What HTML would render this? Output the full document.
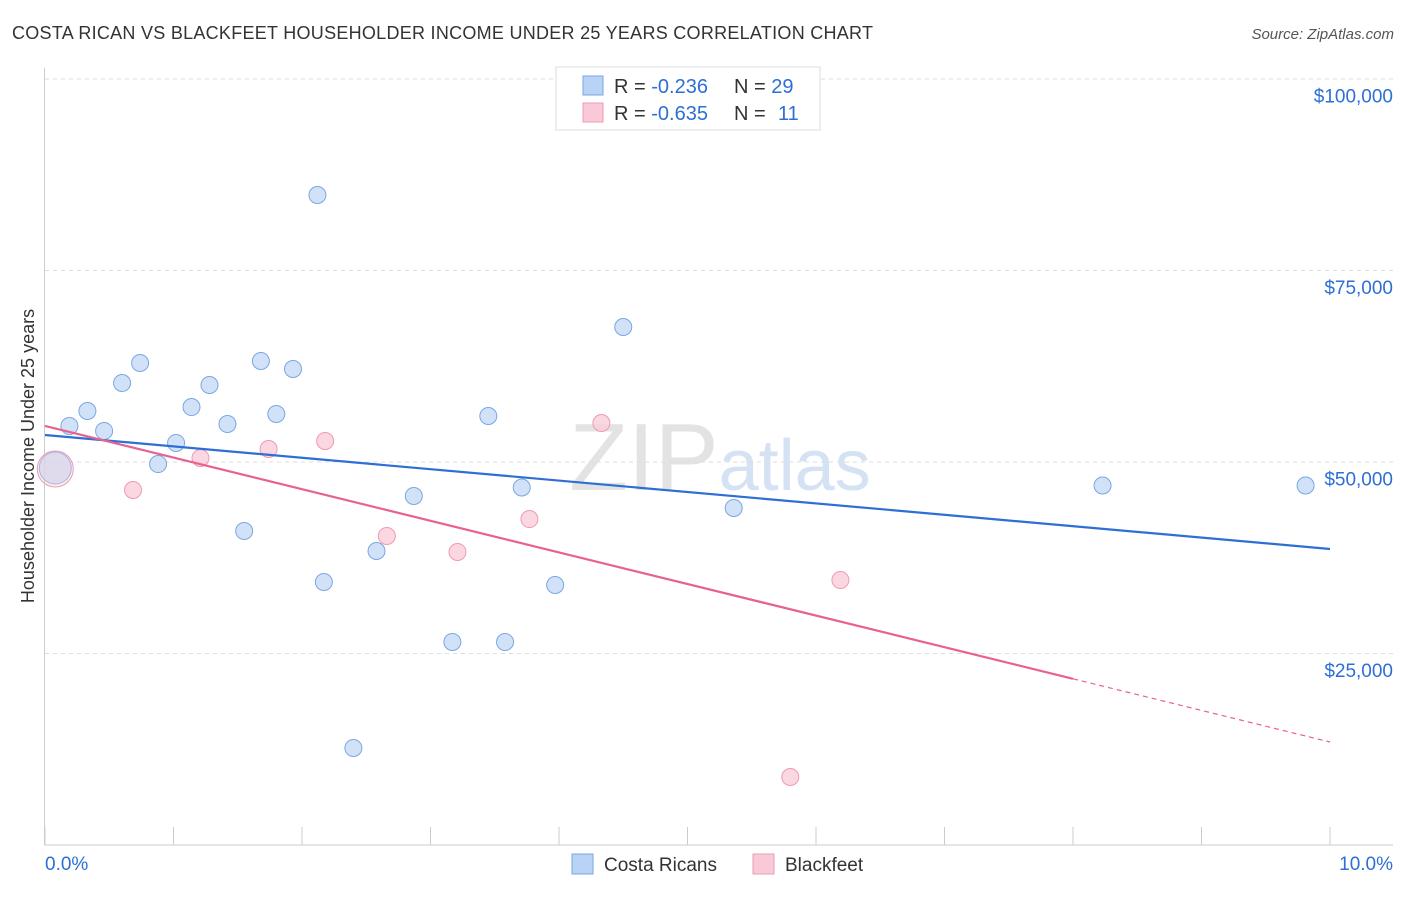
<!DOCTYPE html>
<html><head><meta charset="utf-8"><style>
body{margin:0;background:#fff;font-family:"Liberation Sans",sans-serif}
svg text{font-family:"Liberation Sans",sans-serif}
</style></head><body>
<svg id="chart" width="1406" height="892" xmlns="http://www.w3.org/2000/svg">
<text x="12" y="39" font-size="18" fill="#333" textLength="861" lengthAdjust="spacing">COSTA RICAN VS BLACKFEET HOUSEHOLDER INCOME UNDER 25 YEARS CORRELATION CHART</text>
<text x="1394" y="39" font-size="15" fill="#555" font-style="italic" text-anchor="end">Source: ZipAtlas.com</text>
<text x="720" y="490" font-size="96" fill="#e3e3e3" text-anchor="middle" font-family="Liberation Serif">ZIP<tspan fill="#d4e2f3" font-family="Liberation Sans" font-size="72">atlas</tspan></text>
<text transform="translate(34,456) rotate(-90)" font-size="18" fill="#333" text-anchor="middle">Householder Income Under 25 years</text>
<g id="grid"></g><g id="axes"></g><g id="marks"></g>
<g>
<rect x="556" y="67" width="264" height="63" fill="#fff" stroke="#ddd"/>
<rect x="583" y="76" width="20" height="19" fill="#b8d3f5" stroke="#7aa7e0"/>
<rect x="583" y="103" width="20" height="19" fill="#f9c9d7" stroke="#ee9ab3"/>
<text x="614" y="93" font-size="20" fill="#333">R = <tspan fill="#2d6fd4">-0.236</tspan><tspan x="734">N = </tspan><tspan fill="#2d6fd4">29</tspan></text>
<text x="614" y="120" font-size="20" fill="#333">R = <tspan fill="#2d6fd4">-0.635</tspan><tspan x="734">N = </tspan><tspan fill="#2d6fd4" x="778">11</tspan></text>
</g>
<g>
<rect x="572" y="854" width="21" height="20" fill="#b8d3f5" stroke="#7aa7e0"/>
<text x="604" y="871" font-size="19" fill="#333">Costa Ricans</text>
<rect x="753" y="854" width="21" height="20" fill="#f9c9d7" stroke="#ee9ab3"/>
<text x="785" y="871" font-size="19" fill="#333">Blackfeet</text>
</g>
</svg>
<script>
const yTicks=[25000,50000,75000,100000];
const yTickLabels=["$25,000","$50,000","$75,000","$100,000"];
const xTicks=[0,1,2,3,4,5,6,7,8,9,10];
const blueX=[0.08,0.19,0.33,0.46,0.60,0.74,0.88,1.02,1.14,1.28,1.42,1.55,1.68,1.80,1.93,2.12,2.17,2.40,2.58,2.87,3.17,3.45,3.58,3.71,3.97,4.50,5.36,8.23,9.81];
const blueY=[49280,54770,56720,54120,60380,62990,49800,52550,57240,60120,55030,41060,63250,56330,62210,84920,34400,12730,38450,45630,26570,56070,26570,46740,34010,67690,44060,47000,47000];
const pinkX=[0.08,0.685,1.21,1.74,2.18,2.66,3.21,3.77,4.33,5.80,6.19];
const pinkY=[49150,46410,50590,51760,52810,40410,38320,42620,55160,8940,34660];
const blueTrend=[53590,38710];
const pinkTrend=[54770,13510];
const pinkSolidEnd=8.0;
const NS="http://www.w3.org/2000/svg";
const xs=v=>45+v*128.5, ys=v=>845.5-v*0.00766;
function mk(tag,attrs,parent){const e=document.createElementNS(NS,tag);for(const k in attrs)e.setAttribute(k,attrs[k]);document.getElementById(parent).appendChild(e);return e;}
yTicks.forEach((t,i)=>{
 const l=mk('line',{x1:45,x2:1393,y1:ys(t)-0.5,y2:ys(t)-0.5,stroke:'#ddd','stroke-dasharray':'4,4'},'grid');
 
 
 const tx=mk('text',{x:1393,y:ys(t)+23,'font-size':19,fill:'#2d6fd4','text-anchor':'end'},'axes');tx.textContent=yTickLabels[i];
 
 
});
const top100=mk('line',{x1:45,x2:1393,y1:79,y2:79,stroke:'#ddd','stroke-dasharray':'4,4'},'grid');


const ax=mk('line',{x1:44.5,x2:44.5,y1:68,y2:845,stroke:'#ccc'},'axes');


const bx=mk('line',{x1:44,x2:1393,y1:845,y2:845,stroke:'#ccc'},'axes');


xTicks.forEach(t=>{const l=mk('line',{x1:xs(t),x2:xs(t),y1:827,y2:845,stroke:'#ccc'},'axes');
 
 });
const x0=mk('text',{x:45,y:870,'font-size':19,fill:'#2d6fd4'},'axes');x0.textContent="0.0%";


const x1=mk('text',{x:1393,y:870,'font-size':19,fill:'#2d6fd4','text-anchor':'end'},'axes');x1.textContent="10.0%";


blueX.forEach((x,i)=>{const c=mk('circle',{cx:xs(x),cy:ys(blueY[i]),r:i===0?16:8.5,fill:'#c5dbf6','fill-opacity':0.8,stroke:'#7aa7e0','stroke-width':1},'marks');
 
 });
pinkX.forEach((x,i)=>{const c=mk('circle',{cx:xs(x),cy:ys(pinkY[i]),r:i===0?18:8.5,fill:'#f9cdd9','fill-opacity':i===0?0.35:0.8,stroke:'#ee9ab3','stroke-width':1},'marks');
 
 });
const bl=mk('line',{x1:xs(0),y1:ys(blueTrend[0]),x2:xs(10),y2:ys(blueTrend[1]),stroke:'#2d6fd4','stroke-width':2.2},'marks');


const pv=x=>pinkTrend[0]+(pinkTrend[1]-pinkTrend[0])*x/10;
const pl=mk('line',{x1:xs(0),y1:ys(pv(0)),x2:xs(pinkSolidEnd),y2:ys(pv(pinkSolidEnd)),stroke:'#e8628f','stroke-width':2.2},'marks');


const pd=mk('line',{x1:xs(pinkSolidEnd),y1:ys(pv(pinkSolidEnd)),x2:xs(10),y2:ys(pv(10)),stroke:'#e8628f','stroke-width':1.2,'stroke-dasharray':'5,4'},'marks');


</script>
</body></html>
